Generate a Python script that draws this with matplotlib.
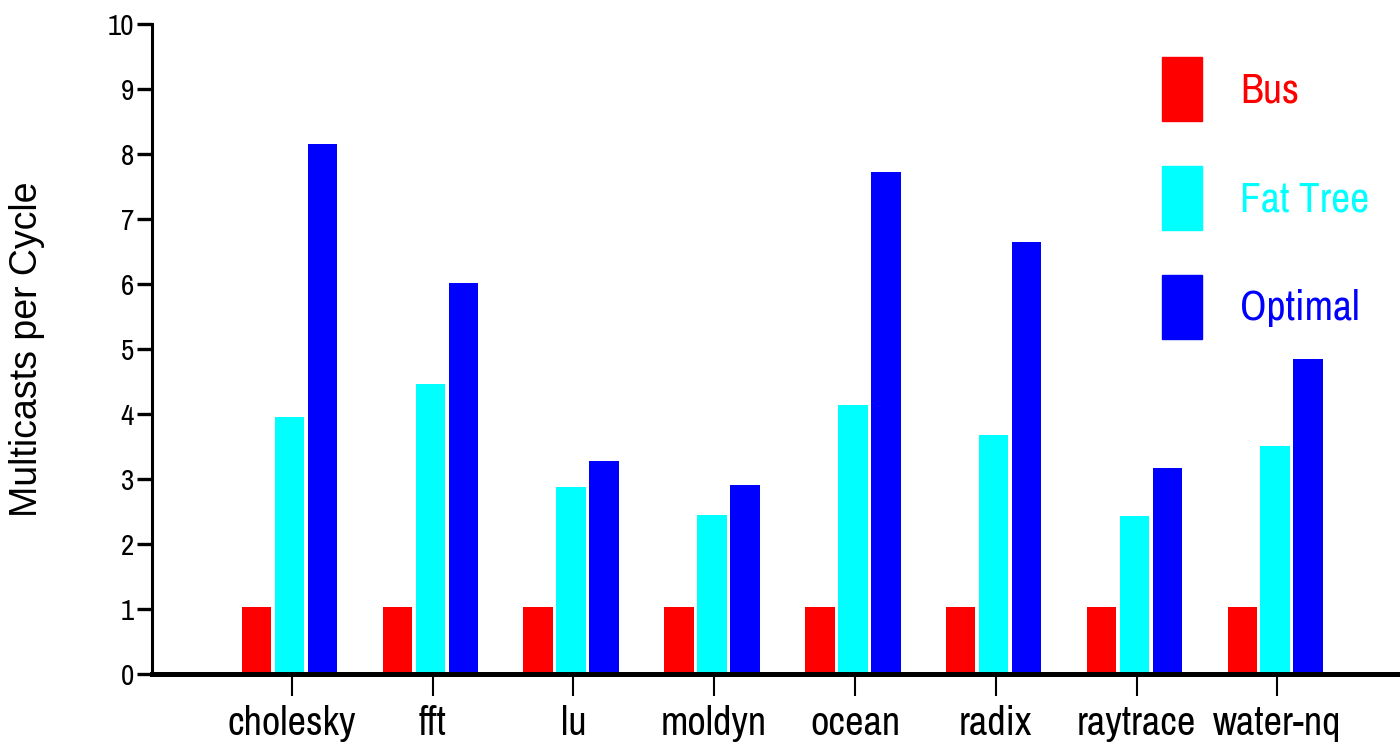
import matplotlib
matplotlib.use("Agg")
import matplotlib.pyplot as plt
from matplotlib.patches import Patch
import numpy as np

benchmarks = ["cholesky", "fft", "lu", "moldyn", "ocean", "radix", "raytrace", "water-nq"]
bus = [1.03, 1.03, 1.03, 1.03, 1.03, 1.03, 1.03, 1.03]
fat_tree = [3.95, 4.46, 2.88, 2.45, 4.14, 3.68, 2.43, 3.51]
optimal = [8.15, 6.02, 3.28, 2.91, 7.72, 6.65, 3.17, 4.85]
y_ticks = list(range(0, 11))

# condensed face for ticks and legend, like Arial Narrow
narrow = ["Archivo Narrow", "Liberation Sans", "DejaVu Sans"]

fig = plt.figure(figsize=(14, 7.49), dpi=100)
ax = fig.add_axes([0.1086, 0.1001, 0.8914, 0.868])

x = np.arange(len(benchmarks))
w = 0.21
off = 0.234
shift = -0.015  # bar groups sit a hair left of the ticks
ax.bar(x + shift - off, bus, w, color="#ff0000", label="Bus", zorder=1)
ax.bar(x + shift, fat_tree, w, color="#00ffff", label="Fat Tree", zorder=1)
ax.bar(x + shift + off, optimal, w, color="#0000ff", label="Optimal", zorder=1)

ax.set_xlim(-0.992, 7.871)
ax.set_ylim(0, 10)

for s in ["top", "right"]:
    ax.spines[s].set_visible(False)
ax.spines["left"].set_linewidth(2.2)
ax.spines["bottom"].set_linewidth(3.6)
ax.spines["bottom"].set_zorder(3)

ax.set_yticks(y_ticks)
ax.set_yticklabels([str(t) for t in y_ticks], family=narrow, fontsize=21)
ax.tick_params(axis="y", direction="out", length=11, width=2.4, pad=2)

ax.set_xticks(x)
ax.set_xticklabels(benchmarks, family=narrow, fontsize=29)
ax.tick_params(axis="x", direction="out", length=16, width=1.5, pad=6)

ax.set_ylabel("Multicasts per Cycle", family="Liberation Sans", fontsize=27, labelpad=0)
ax.yaxis.set_label_coords(-0.086, 0.5)

handles = [Patch(color="#ff0000"), Patch(color="#00ffff"), Patch(color="#0000ff")]
leg = fig.legend(handles, ["Bus", "Fat Tree", "Optimal"],
                 loc="upper left", bbox_to_anchor=(0.83, 0.924),
                 bbox_transform=fig.transFigure, frameon=False,
                 prop={"family": narrow, "size": 30},
                 handlelength=0.95, handleheight=2.0, labelspacing=1.07,
                 handletextpad=0.92, borderpad=0, borderaxespad=0,
                 labelcolor=["#ff0000", "#00ffff", "#0000ff"])

fig.savefig("out.png", dpi=100)
